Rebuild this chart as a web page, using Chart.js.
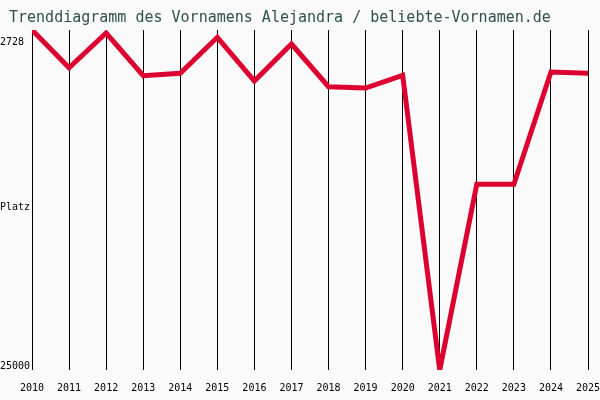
<!DOCTYPE html>
<html>
<head>
<meta charset="utf-8">
<script src="https://cdn.jsdelivr.net/npm/chart.js@4/dist/chart.umd.min.js"></script>
<style>
html,body{margin:0;padding:0;background:#fafafa;}
#wrap{width:600px;height:400px;}
</style>
</head>
<body>
<div id="wrap"><canvas id="c" width="600" height="400"></canvas></div>
<script>
const titleText = 'Trenddiagramm des Vornamens Alejandra / beliebte-Vornamen.de';
const years = ['2010','2011','2012','2013','2014','2015','2016','2017','2018','2019','2020','2021','2022','2023','2024','2025'];
const ranks = [2728, 5198, 2925, 5722, 5564, 3206, 6069, 3645, 6442, 6527, 5695, 25000, 12835, 12835, 5479, 5564];
const yMin = 2728;
const yMax = 25000;
const yTickValues = [3514, 14322, 24736];
const yTickLabels = ['2728', 'Platz', '25000'];

const titlePlugin = {
  id: 'monoTitle',
  afterDraw(chart) {
    const ctx = chart.ctx;
    ctx.save();
    ctx.font = '15px "DejaVu Sans Mono", monospace';
    ctx.fillStyle = '#2f4f4f';
    ctx.textBaseline = 'middle';
    ctx.textAlign = 'left';
    ctx.fillText(titleText, 9, 18);
    ctx.restore();
  }
};
const bgPlugin = {
  id: 'bg',
  beforeDraw(chart) {
    const ctx = chart.ctx;
    ctx.save();
    ctx.fillStyle = '#fafafa';
    ctx.fillRect(0, 0, chart.width, chart.height);
    ctx.restore();
  }
};

new Chart(document.getElementById('c'), {
  type: 'line',
  data: {
    labels: years,
    datasets: [{
      data: ranks,
      borderColor: '#dc0030',
      borderWidth: 5,
      pointRadius: 0,
      tension: 0,
      fill: false,
      clip: 0
    }]
  },
  options: {
    responsive: false,
    animation: false,
    devicePixelRatio: 1,
    layout: { padding: { top: 30, right: 0, left: 0, bottom: 0 } },
    plugins: { legend: { display: false }, title: { display: false }, tooltip: { enabled: false } },
    scales: {
      x: {
        offset: false,
        border: { display: false },
        grid: { color: '#000000', lineWidth: 1, drawTicks: false },
        ticks: {
          color: '#000000',
          font: { family: '"DejaVu Sans Mono", monospace', size: 10 },
          padding: 12,
          maxRotation: 0,
          autoSkip: false
        },
        afterFit(scale) { scale.height = 30; scale.paddingRight = 12; scale.paddingLeft = 0; }
      },
      y: {
        reverse: true,
        min: yMin,
        max: yMax,
        border: { display: false },
        grid: { display: false, drawTicks: false },
        afterBuildTicks(scale) { scale.ticks = yTickValues.map(v => ({ value: v })); },
        ticks: {
          color: '#000000',
          crossAlign: 'far',
          padding: 0,
          font: { family: '"DejaVu Sans Mono", monospace', size: 10 },
          callback: (v, i) => yTickLabels[i]
        },
        afterFit(scale) { scale.width = 32; scale.paddingTop = 0; scale.paddingBottom = 0; }
      }
    }
  },
  plugins: [bgPlugin, titlePlugin]
});
</script>
</body>
</html>
